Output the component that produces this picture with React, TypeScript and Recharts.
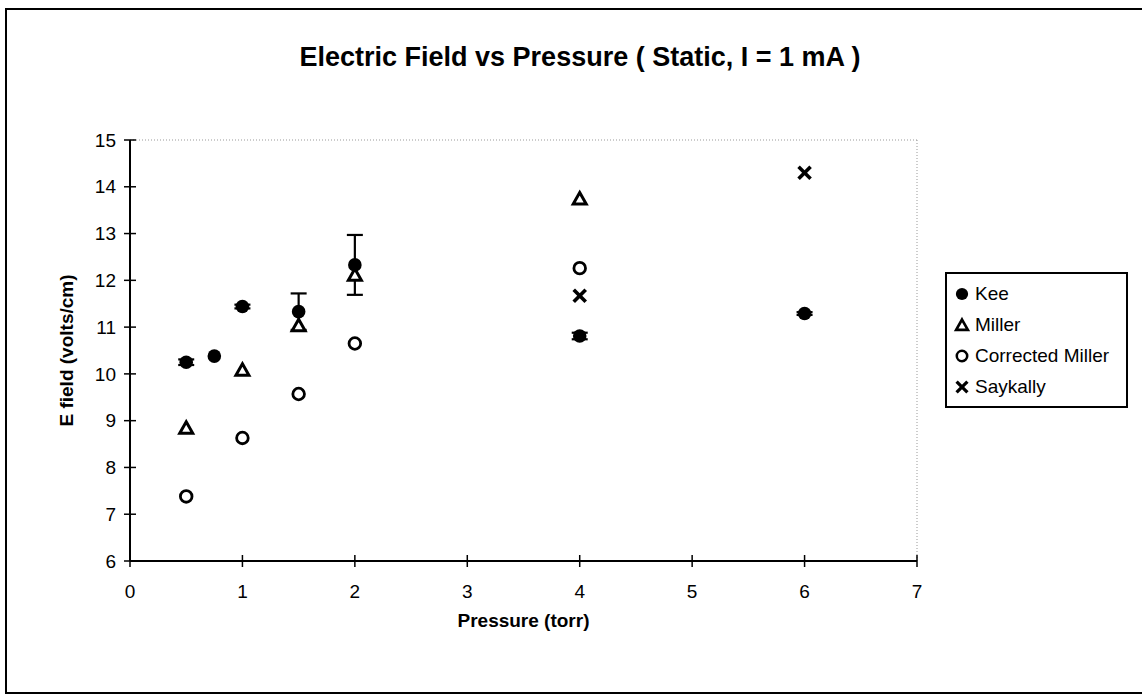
import React from 'react';
import { ScatterChart, Scatter, XAxis, YAxis, ErrorBar, ReferenceLine } from 'recharts';

// pressure (torr) / E field (volts/cm) per data source
const keePressure = [0.5, 0.75, 1, 1.5, 2, 4, 6];
const keeField = [10.25, 10.38, 11.44, 11.33, 12.33, 10.81, 11.29];
const keeError = [0.06, 0, 0.04, 0.39, 0.64, 0.07, 0.03];

const millerPressure = [0.5, 1, 1.5, 2, 4];
const millerField = [8.85, 10.09, 11.04, 12.12, 13.75];

const correctedPressure = [0.5, 1, 1.5, 2, 4];
const correctedField = [7.38, 8.63, 9.57, 10.65, 12.26];

const saykallyPressure = [4, 6];
const saykallyField = [11.67, 14.3];

const seriesNames = ['Kee', 'Miller', 'Corrected Miller', 'Saykally'];
const xTicks = [0, 1, 2, 3, 4, 5, 6, 7];
const yTicks = [6, 7, 8, 9, 10, 11, 12, 13, 14, 15];

const toPoints = (xs: number[], ys: number[], errs?: number[]) =>
  xs.map((x, i) => ({ x, y: ys[i], err: errs ? errs[i] : 0 }));

const keeData = toPoints(keePressure, keeField, keeError);
const millerData = toPoints(millerPressure, millerField);
const correctedData = toPoints(correctedPressure, correctedField);
const saykallyData = toPoints(saykallyPressure, saykallyField);

const FONT = '"Liberation Sans", Arial, sans-serif';

// marker shapes (Excel style black & white)
const FilledDot = (p: any) => <circle cx={p.cx} cy={p.cy} r={6.8} fill="#000" />;
const OpenTriangle = (p: any) => (
  <path
    d={`M${p.cx},${p.cy - 6} L${p.cx + 6.5},${p.cy + 5.5} L${p.cx - 6.5},${p.cy + 5.5} Z`}
    fill="#fff"
    stroke="#000"
    strokeWidth={3}
  />
);
const OpenCircle = (p: any) => <circle cx={p.cx} cy={p.cy} r={5.8} fill="#fff" stroke="#000" strokeWidth={2.8} />;
const Cross = (p: any) => (
  <g stroke="#000" strokeWidth={3.6} strokeLinecap="butt">
    <line x1={p.cx - 6} y1={p.cy - 6} x2={p.cx + 6} y2={p.cy + 6} />
    <line x1={p.cx - 6} y1={p.cy + 6} x2={p.cx + 6} y2={p.cy - 6} />
  </g>
);
const shapes = [FilledDot, OpenTriangle, OpenCircle, Cross];

// ticks crossing the axis line
const XTick = (props: any) => {
  const { x, y, payload } = props;
  return (
    <g>
      <line x1={x} x2={x} y1={y - 6} y2={y + 6} stroke="#000" strokeWidth={1.5} />
      <text x={x} y={y + 30} dy="0.35em" textAnchor="middle" fontSize={19} fill="#000">
        {payload.value}
      </text>
    </g>
  );
};

const YTick = (props: any) => {
  const { x, y, payload } = props;
  return (
    <g>
      <line x1={x - 6} x2={x + 6} y1={y} y2={y} stroke="#000" strokeWidth={1.5} />
      <text x={x - 14} y={y} dy="0.35em" textAnchor="end" fontSize={19} fill="#000">
        {payload.value}
      </text>
    </g>
  );
};

const LegendBox = () => (
  <div style={{ position: 'absolute', left: 945, top: 272, width: 174, border: '2px solid #000', background: '#fff', padding: '4px 0 4px 5px' }}>
    {seriesNames.map((name, i) => {
      const Shape = shapes[i];
      return (
        <div key={name} style={{ display: 'flex', alignItems: 'center', height: 31, fontSize: 19, color: '#000' }}>
          <svg width={20} height={20} style={{ marginRight: 3 }}>
            <g transform="translate(10,10) scale(0.9) translate(-10,-10)">
              <Shape cx={10} cy={10} />
            </g>
          </svg>
          {name}
        </div>
      );
    })}
  </div>
);

const App: React.FC = () => {
  return (
    <div style={{ position: 'absolute', left: 0, top: 0, width: 1142, height: 694, background: '#fff', fontFamily: FONT, overflow: 'hidden' }}>
      <div style={{ position: 'absolute', left: 0, width: 1160, top: 42, textAlign: 'center', fontSize: 27, fontWeight: 'bold', color: '#000' }}>
        Electric Field vs Pressure ( Static, I = 1 mA )
      </div>
      <div style={{ position: 'absolute', left: 0, top: 0 }}>
        <ScatterChart width={1142} height={694} margin={{ top: 140, right: 225, bottom: 63, left: 60 }}>
          <XAxis
            type="number"
            dataKey="x"
            domain={[0, 7]}
            ticks={xTicks}
            interval={0}
            tickSize={0}
            tickMargin={0}
            tick={<XTick />}
            axisLine={{ stroke: '#000', strokeWidth: 2 }}
            height={70}
            label={{ value: 'Pressure (torr)', position: 'insideBottom', offset: 4, fontSize: 19, fontWeight: 'bold', fill: '#000' }}
          />
          <YAxis
            type="number"
            dataKey="y"
            domain={[6, 15]}
            ticks={yTicks}
            interval={0}
            tickSize={0}
            tickMargin={0}
            tick={<YTick />}
            axisLine={{ stroke: '#000', strokeWidth: 2 }}
            width={70}
            label={{ value: 'E field (volts/cm)', angle: -90, position: 'insideLeft', offset: 6, fontSize: 19, fontWeight: 'bold', fill: '#000', style: { textAnchor: 'middle' } }}
          />
          <ReferenceLine y={15} stroke="#999" strokeDasharray="1 2" />
          <ReferenceLine x={7} stroke="#999" strokeDasharray="1 2" />
          <Scatter name="Kee" data={keeData} shape={FilledDot} isAnimationActive={false}>
            <ErrorBar dataKey="err" direction="y" width={8} stroke="#000" strokeWidth={2.2} />
          </Scatter>
          <Scatter name="Miller" data={millerData} shape={OpenTriangle} isAnimationActive={false} />
          <Scatter name="Corrected Miller" data={correctedData} shape={OpenCircle} isAnimationActive={false} />
          <Scatter name="Saykally" data={saykallyData} shape={Cross} isAnimationActive={false} />
        </ScatterChart>
      </div>
      <LegendBox />
      <div style={{ position: 'absolute', left: 5, top: 8, width: 1150, height: 682, borderTop: '2px solid #000', borderLeft: '2px solid #000', borderBottom: '2px solid #000', pointerEvents: 'none' }} />
    </div>
  );
};

export default App;
